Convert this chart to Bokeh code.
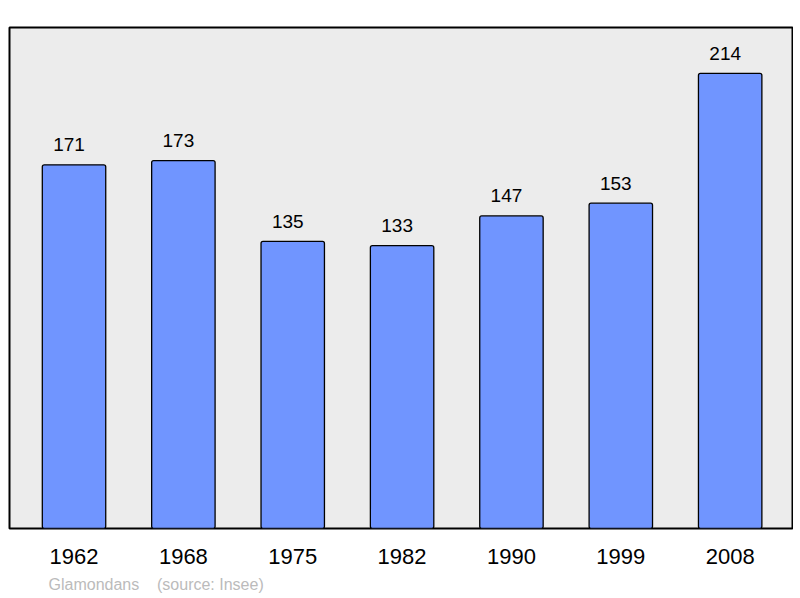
from bokeh.plotting import figure
from bokeh.models import ColumnDataSource, Range1d, FixedTicker, Title
from bokeh.core.properties import value
from bokeh.embed import file_html
from bokeh.resources import INLINE

years = ["1962", "1968", "1975", "1982", "1990", "1999", "2008"]
population = [171, 173, 135, 133, 147, 153, 214]
footer = "Glamondans\u00a0\u00a0\u00a0\u00a0(source: Insee)"

xs = list(range(len(years)))
src = ColumnDataSource(dict(x=xs, top=population, label=[str(v) for v in population]))

p = figure(width=793, height=596, output_backend="svg", toolbar_location=None,
           x_range=Range1d(-0.59, 6.57), y_range=Range1d(0, 235.6),
           min_border_left=9, min_border_right=1, min_border_top=27, min_border_bottom=68)
p.background_fill_color = "#ececec"
p.border_fill_color = "white"
p.outline_line_color = "black"
p.outline_line_width = 2
p.grid.visible = False
p.yaxis.visible = False

p.vbar(x="x", top="top", width=0.58, source=src, fill_color="#7095ff",
       line_color="black", line_width=1.3, border_radius=2)
p.text(x="x", y="top", text="label", source=src, text_align="center",
       text_baseline="alphabetic", y_offset=-20, x_offset=-5,
       text_font=value("Liberation Sans"),
       text_font_size="19px", text_color="black")

ax = p.xaxis[0]
ax.ticker = FixedTicker(ticks=xs)
ax.major_label_overrides = {i: y for i, y in enumerate(years)}
ax.axis_line_color = None
ax.major_tick_line_color = None
ax.minor_tick_line_color = None
ax.major_tick_in = 0
ax.major_tick_out = 0
ax.major_label_standoff = 20
ax.major_label_text_font = "Liberation Sans"
ax.major_label_text_font_size = "22px"
ax.major_label_text_color = "black"

spacer = Title(text="\u00a0", text_font_size="3px", standoff=0)
p.add_layout(spacer, "below")
t = Title(text=footer, align="left", offset=39, text_font="Liberation Sans",
          text_font_size="16px", text_font_style="normal", text_color="#bbbbbb",
          standoff=5)
p.add_layout(t, "below")

open("out.html", "w").write(file_html(p, INLINE))
